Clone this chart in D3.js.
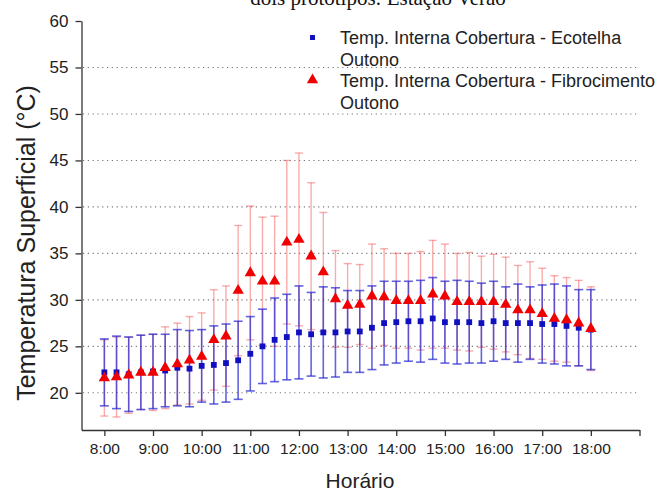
<!DOCTYPE html>
<html>
<head>
<meta charset="utf-8">
<script src="https://cdn.jsdelivr.net/npm/d3@7"></script>
<style>
  html, body { margin: 0; padding: 0; background: #fff; }
  svg { display: block; }
  text { font-family: "Liberation Sans", Arial, sans-serif; fill: #222; }
</style>
</head>
<body>
<svg id="chart" width="667" height="494"></svg>
<script>
// Sampling times (every 15 minutes)
const times = ["8:00","8:15","8:30","8:45","9:00","9:15","9:30","9:45","10:00","10:15","10:30","10:45",
  "11:00","11:15","11:30","11:45","12:00","12:15","12:30","12:45","13:00","13:15","13:30","13:45",
  "14:00","14:15","14:30","14:45","15:00","15:15","15:30","15:45","16:00","16:15","16:30","16:45",
  "17:00","17:15","17:30","17:45","18:00"];

// Ecotelha roof: mean internal surface temperature and standard deviation (°C)
const ecoMean = [22.2,22.2,22.0,22.2,22.3,22.4,22.7,22.6,22.9,23.0,23.2,23.5,24.2,25.0,25.7,26.0,26.5,26.3,26.5,26.5,
  26.6,26.6,27.0,27.5,27.6,27.7,27.7,28.0,27.6,27.6,27.6,27.5,27.7,27.5,27.5,27.5,27.4,27.4,27.2,27.0,26.8];
const ecoSd = [3.6,3.9,4.0,4.0,4.0,3.9,4.1,4.1,3.9,4.2,4.2,4.2,4.0,4.0,4.5,4.6,5.0,4.5,4.9,4.8,
  4.4,4.4,4.5,4.5,4.4,4.3,4.4,4.4,4.4,4.5,4.4,4.3,4.3,3.9,4.2,3.9,4.2,4.3,4.3,4.1,4.3];

// Fibrocimento roof: mean internal surface temperature and standard deviation (°C)
const fibMean = [21.6,21.7,21.9,22.2,22.2,22.7,23.1,23.5,23.9,25.7,26.1,31.0,32.9,32.0,32.0,36.2,36.5,34.7,33.0,30.1,
  29.4,29.5,30.4,30.3,29.9,29.9,29.9,30.6,30.4,29.8,29.8,29.8,29.8,29.5,28.9,28.9,28.5,28.0,27.85,27.5,26.9];
const fibSd = [4.1,4.3,4.1,4.0,4.1,4.4,4.4,4.7,4.7,5.4,5.4,7.0,7.2,6.9,7.0,8.8,9.3,7.9,6.4,5.2,
  4.5,4.3,5.6,5.2,5.1,5.1,5.3,5.8,5.6,5.2,5.3,4.9,5.1,5.1,4.8,5.2,4.9,4.6,4.55,4.6,4.5];

// Axis ticks
const xTickLabels = ["8:00","9:00","10:00","11:00","12:00","13:00","14:00","15:00","16:00","17:00","18:00"];
const yTicks = [20,25,30,35,40,45,50,55,60];
const gridValues = [20,25,30,35,40,45,50,55];

const legendLabels = [
  ["Temp. Interna Cobertura - Ecotelha", "Outono"],
  ["Temp. Interna Cobertura - Fibrocimento", "Outono"]
];

const toHours = s => { const [h, m] = s.split(":").map(Number); return h + m / 60; };

const svg = d3.select("#chart");

const x = d3.scaleLinear().domain([7.53, 19]).range([81.5, 639.5]);
const y = d3.scaleLinear().domain([16, 60]).range([430, 21]);

// Title line, running off the top edge
svg.append("text")
  .attr("x", 378).attr("y", 5)
  .attr("text-anchor", "middle")
  .style("font-family", "'Liberation Serif', 'Times New Roman', serif")
  .style("font-size", "21px")
  .style("fill", "#111")
  .text("dois protótipos: Estação Verão");

// Dotted horizontal grid
svg.append("g").selectAll("line").data(gridValues).join("line")
  .attr("x1", 83).attr("x2", 637)
  .attr("y1", d => y(d)).attr("y2", d => y(d))
  .attr("stroke", "#777").attr("stroke-width", 1.1)
  .attr("stroke-dasharray", "1.2,3.6");

// Axes
const yAxis = d3.axisLeft(y).tickValues(yTicks).tickSize(6).tickSizeOuter(0).tickPadding(7);
const gy = svg.append("g").attr("transform", "translate(81.5,0)").call(yAxis);

const xTickValues = xTickLabels.map(toHours).concat([19]);
const xAxis = d3.axisBottom(x).tickValues(xTickValues).tickSize(6).tickSizeOuter(0).tickPadding(7)
  .tickFormat((d, i) => i < xTickLabels.length ? xTickLabels[i] : "");
const gx = svg.append("g").attr("transform", "translate(0,430)").call(xAxis);

[gx, gy].forEach(g => {
  g.select(".domain").attr("stroke", "#333").attr("stroke-width", 1.3);
  g.selectAll(".tick line").attr("stroke", "#333").attr("stroke-width", 1.3);
  g.selectAll(".tick text").style("font-family", "'Liberation Sans', Arial, sans-serif").attr("fill", "#222");
});
gy.selectAll(".tick text").style("font-size", "17px");
gx.selectAll(".tick text").style("font-size", "15.5px");

// Axis titles
svg.append("text")
  .attr("transform", "translate(35,243) rotate(-90)")
  .attr("text-anchor", "middle")
  .style("font-size", "25px")
  .text("Temperatura Superficial (°C)");
svg.append("text")
  .attr("x", 360).attr("y", 488)
  .attr("text-anchor", "middle")
  .style("font-size", "21px")
  .text("Horário");

// Rows joined by time
const rows = times.map((t, i) => ({
  t: toHours(t),
  em: ecoMean[i], es: ecoSd[i],
  fm: fibMean[i], fs: fibSd[i]
}));

function errorBars(g, meanKey, sdKey, color, width, cap) {
  const sel = g.selectAll("g").data(rows).join("g");
  sel.append("line")
    .attr("x1", d => x(d.t)).attr("x2", d => x(d.t))
    .attr("y1", d => y(d[meanKey] - d[sdKey])).attr("y2", d => y(d[meanKey] + d[sdKey]))
    .attr("stroke", color).attr("stroke-width", width);
  [-1, 1].forEach(s => {
    sel.append("line")
      .attr("x1", d => x(d.t) - cap).attr("x2", d => x(d.t) + cap)
      .attr("y1", d => y(d[meanKey] + s * d[sdKey])).attr("y2", d => y(d[meanKey] + s * d[sdKey]))
      .attr("stroke", color).attr("stroke-width", width);
  });
}

// Fibrocimento error bars (light red), then Ecotelha (blue, translucent)
errorBars(svg.append("g"), "fm", "fs", "rgba(240,70,70,0.45)", 1.4, 4);
errorBars(svg.append("g"), "em", "es", "rgba(40,40,210,0.72)", 1.6, 4.5);

// Ecotelha markers
svg.append("g").selectAll("rect").data(rows).join("rect")
  .attr("x", d => x(d.t) - 2.9).attr("y", d => y(d.em) - 2.9)
  .attr("width", 5.8).attr("height", 5.8)
  .attr("fill", "#1010c0");

// Fibrocimento markers
const tri = d3.symbol().type(d3.symbolTriangle).size(56);
svg.append("g").selectAll("path").data(rows).join("path")
  .attr("d", tri)
  .attr("transform", d => `translate(${x(d.t)},${y(d.fm)})`)
  .attr("fill", "#f00000");

// Legend
const lg = svg.append("g");
lg.append("rect").attr("x", 310).attr("y", 35).attr("width", 5).attr("height", 5).attr("fill", "#1010c0");
lg.append("path").attr("d", tri).attr("transform", "translate(312.5,80)").attr("fill", "#f00000");
legendLabels.forEach((lines, i) => {
  lines.forEach((s, j) => {
    lg.append("text")
      .attr("x", 340).attr("y", 44 + i * 43 + j * 21.5)
      .style("font-size", "18px")
      .text(s);
  });
});
</script>
</body>
</html>
